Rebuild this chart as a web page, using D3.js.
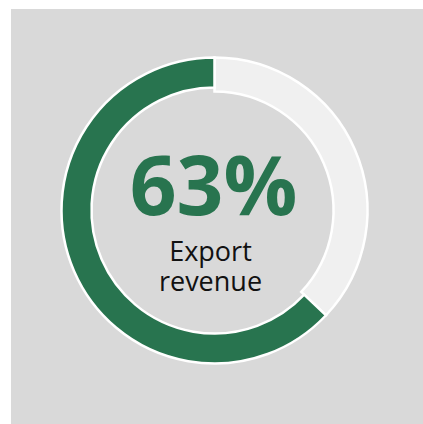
<!DOCTYPE html>
<html>
<head>
<meta charset="utf-8">
<script src="https://cdn.jsdelivr.net/npm/d3@7"></script>
<style>
  html, body { margin: 0; padding: 0; background: #ffffff; }
  svg { display: block; }
</style>
</head>
<body>
<div id="chart"></div>
<script>
// KPI donut: share of revenue from exports
const share = [63];           // percent shown by the green arc
const label = ["Export", "revenue"];
const parts = ["Export", "Other"];

const width = 423, height = 424;
const cx = 214.5, cy = 210.5;

const svg = d3.select("#chart").append("svg")
  .attr("width", width)
  .attr("height", height);

// panel background
svg.append("rect")
  .attr("x", 11).attr("y", 9)
  .attr("width", width - 11).attr("height", height - 9)
  .attr("fill", "#d9d9d9");

const g = svg.append("g").attr("transform", `translate(${cx},${cy})`);

// angle scale: percent -> radians, clockwise from 12 o'clock
const angle = d3.scaleLinear().domain([0, 100]).range([0, 2 * Math.PI]);

const values = [share[0], 100 - share[0]];
const color = d3.scaleOrdinal().domain(parts).range(["#28744f", "#f0f0f0"]);

// remainder track (runs clockwise from top to the end of the green arc)
const trackArc = d3.arc().innerRadius(119).outerRadius(153);
const valueArc = d3.arc().innerRadius(123).outerRadius(153);

g.append("path")
  .attr("d", trackArc({ startAngle: angle(0), endAngle: angle(values[1]) }))
  .attr("fill", color("Other"))
  .attr("stroke", "#ffffff")
  .attr("stroke-width", 2.5);

// value arc drawn counter-clockwise from the top
g.append("path")
  .attr("d", valueArc({ startAngle: angle(values[1]), endAngle: angle(100) }))
  .attr("fill", color("Export"))
  .attr("stroke", "#ffffff")
  .attr("stroke-width", 2.5);

// centre labels
g.append("text")
  .attr("x", -1).attr("y", 4)
  .attr("text-anchor", "middle")
  .attr("font-family", "'Open Sans', sans-serif")
  .attr("font-weight", 700)
  .attr("font-size", 82)
  .attr("fill", color("Export"))
  .text(d3.format("d")(share[0]) + "%");

g.selectAll("text.sub")
  .data(label)
  .join("text")
  .attr("class", "sub")
  .attr("x", -4)
  .attr("y", (d, i) => 50 + i * 30.5)
  .attr("text-anchor", "middle")
  .attr("font-family", "'Open Sans', sans-serif")
  .attr("font-weight", 400)
  .attr("font-size", 27)
  .attr("fill", "#111111")
  .text(d => d);
</script>
</body>
</html>
